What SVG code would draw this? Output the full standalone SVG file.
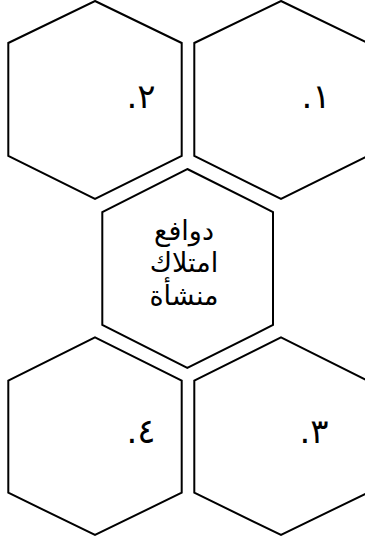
<svg xmlns="http://www.w3.org/2000/svg" width="365" height="542" viewBox="0 0 365 542">
<style>
.hex{fill:#fff;stroke:#000;stroke-width:2;stroke-linejoin:miter}
.num{font-family:"DejaVu Sans",sans-serif;font-size:34px;fill:#000;text-anchor:middle}
.ctr{font-family:"DejaVu Sans",sans-serif;font-size:27px;fill:#000;text-anchor:middle}
</style>
<rect width="365" height="542" fill="#fff"/>
<g id="hex1">
<polygon class="hex" points="281,1 367.7,43 367.7,156 281,199 194.3,156 194.3,43"/>
<text class="num" x="316" y="108" direction="rtl">١.</text>
</g>
<g id="hex2">
<polygon class="hex" points="95,1 181.7,43 181.7,156 95,199 8.3,156 8.3,43"/>
<text class="num" x="141" y="108" direction="rtl">٢.</text>
</g>
<g id="center">
<polygon class="hex" points="187.3,169 273,212 273,325 187.3,368 102.3,325 102.3,212"/>
<text class="ctr" direction="rtl"><tspan x="184" y="240">دوافع</tspan><tspan x="184" y="272">امتلاك</tspan><tspan x="184" y="305">منشأة</tspan></text>
</g>
<g id="hex3">
<polygon class="hex" points="281,337.3 367.7,380.7 367.7,492.7 281,535 194.3,492.7 194.3,380.7"/>
<text class="num" x="314" y="443" direction="rtl">٣.</text>
</g>
<g id="hex4">
<polygon class="hex" points="95,337.3 181.7,380.7 181.7,492.7 95,535 8.3,492.7 8.3,380.7"/>
<text class="num" x="141" y="443" direction="rtl">٤.</text>
</g>
<g id="connectors"/>
</svg>
